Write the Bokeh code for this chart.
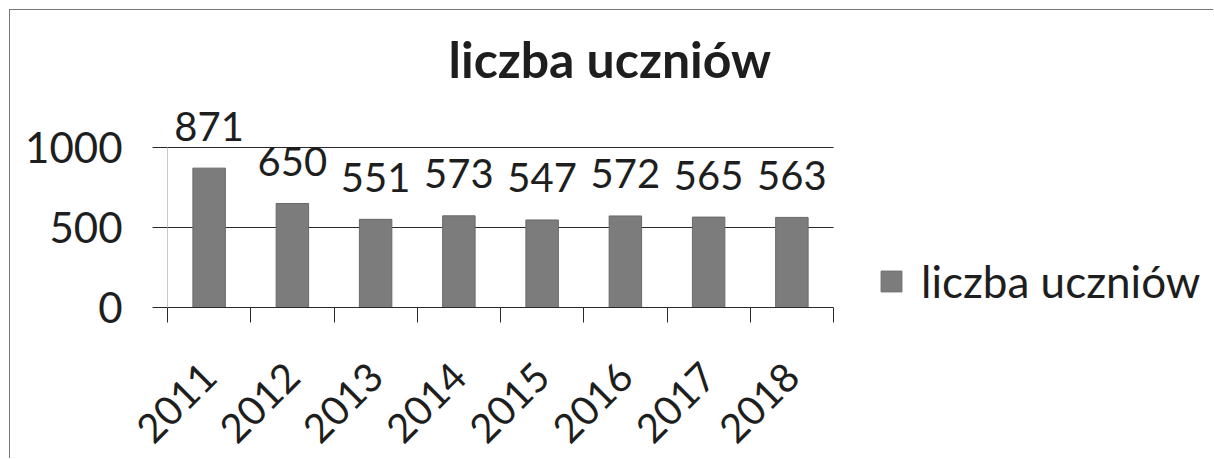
import math
from bokeh.plotting import figure
from bokeh.models import (Range1d, LinearAxis, FixedTicker, Legend, LegendItem,
                          ColumnDataSource, Title)
from bokeh.embed import file_html
from bokeh.resources import INLINE

years = ["2011", "2012", "2013", "2014", "2015", "2016", "2017", "2018"]
counts = [871, 650, 551, 573, 547, 572, 565, 563]
series_name = "liczba uczniów"
y_ticks = [0, 500, 1000]

FONT = "Lato"
TXT = "#1e1e1e"
LINE = "#2a2a2a"

n = len(years)
centers = [i + 0.5 for i in range(n)]
edges = list(range(n + 1))
src = ColumnDataSource(dict(x=centers, top=counts, lab=[str(v) for v in counts]))

# frame spans categories (666 px) plus room on the right for the legend (1047 px total)
X_END = n * 1047 / 666

p = figure(width=1204, height=449, output_backend="svg", toolbar_location=None,
           x_range=Range1d(0, X_END), y_range=Range1d(0, 1300),
           x_axis_location=None, y_axis_location=None,
           min_border_left=157, min_border_right=0, min_border_top=89, min_border_bottom=152)
p.styles = {"margin": "9px 0px 0px 9px", "border-left": "1px solid #777",
            "border-top": "1px solid #777"}
p.outline_line_color = None
p.background_fill_color = "white"
p.border_fill_color = "white"
p.grid.visible = False

# title
p.title = Title(text=series_name, align="left", text_font=FONT, text_font_style="bold",
                text_font_size="50px", text_color=TXT, offset=281, standoff=21)

# horizontal grid lines at the value ticks (limited to the category area)
p.segment(x0=0, x1=n, y0=y_ticks[1:], y1=y_ticks[1:], line_color=LINE, line_width=1)

# y axis
yax = LinearAxis(ticker=FixedTicker(ticks=y_ticks), bounds=(y_ticks[0], y_ticks[-1]),
                 major_tick_out=15, major_tick_in=0,
                 minor_tick_line_color=None, axis_line_color="#c8c8c8",
                 major_tick_line_color=LINE, major_label_standoff=30,
                 major_label_text_font=FONT, major_label_text_font_size="42px",
                 major_label_text_color=TXT)
p.add_layout(yax, "left")

# category axis: labels at category centres, tick marks at category boundaries
cat_ax = LinearAxis(ticker=FixedTicker(ticks=centers, minor_ticks=edges), bounds=(0, n),
                    major_label_overrides={c: y for c, y in zip(centers, years)},
                    axis_line_color=LINE, major_tick_line_color=None,
                    major_tick_out=0, major_tick_in=0,
                    minor_tick_line_color=LINE, minor_tick_out=15, minor_tick_in=0,
                    major_label_orientation=math.pi / 4, major_label_standoff=47,
                    major_label_text_font=FONT, major_label_text_font_size="40px",
                    major_label_text_color=TXT)
p.add_layout(cat_ax, "below")

bars = p.vbar(x="x", top="top", width=0.39, source=src, fill_color="#7c7c7c",
              line_color="#686868", line_width=1)

p.text(x="x", y="top", text="lab", source=src, text_align="center",
       text_baseline="alphabetic", y_offset=-42, text_font={"value": FONT},
       text_font_size="40px", text_color=TXT)

legend = Legend(items=[LegendItem(label=series_name, renderers=[bars])],
                location=(711, 0), orientation="vertical",
                label_text_font=FONT, label_text_font_size="44px", label_text_color=TXT,
                glyph_width=26, glyph_height=26, padding=0, margin=0, spacing=0,
                label_standoff=17, border_line_color=None, background_fill_alpha=0)
p.add_layout(legend, "center")

open("out.html", "w").write(file_html(p, INLINE))
